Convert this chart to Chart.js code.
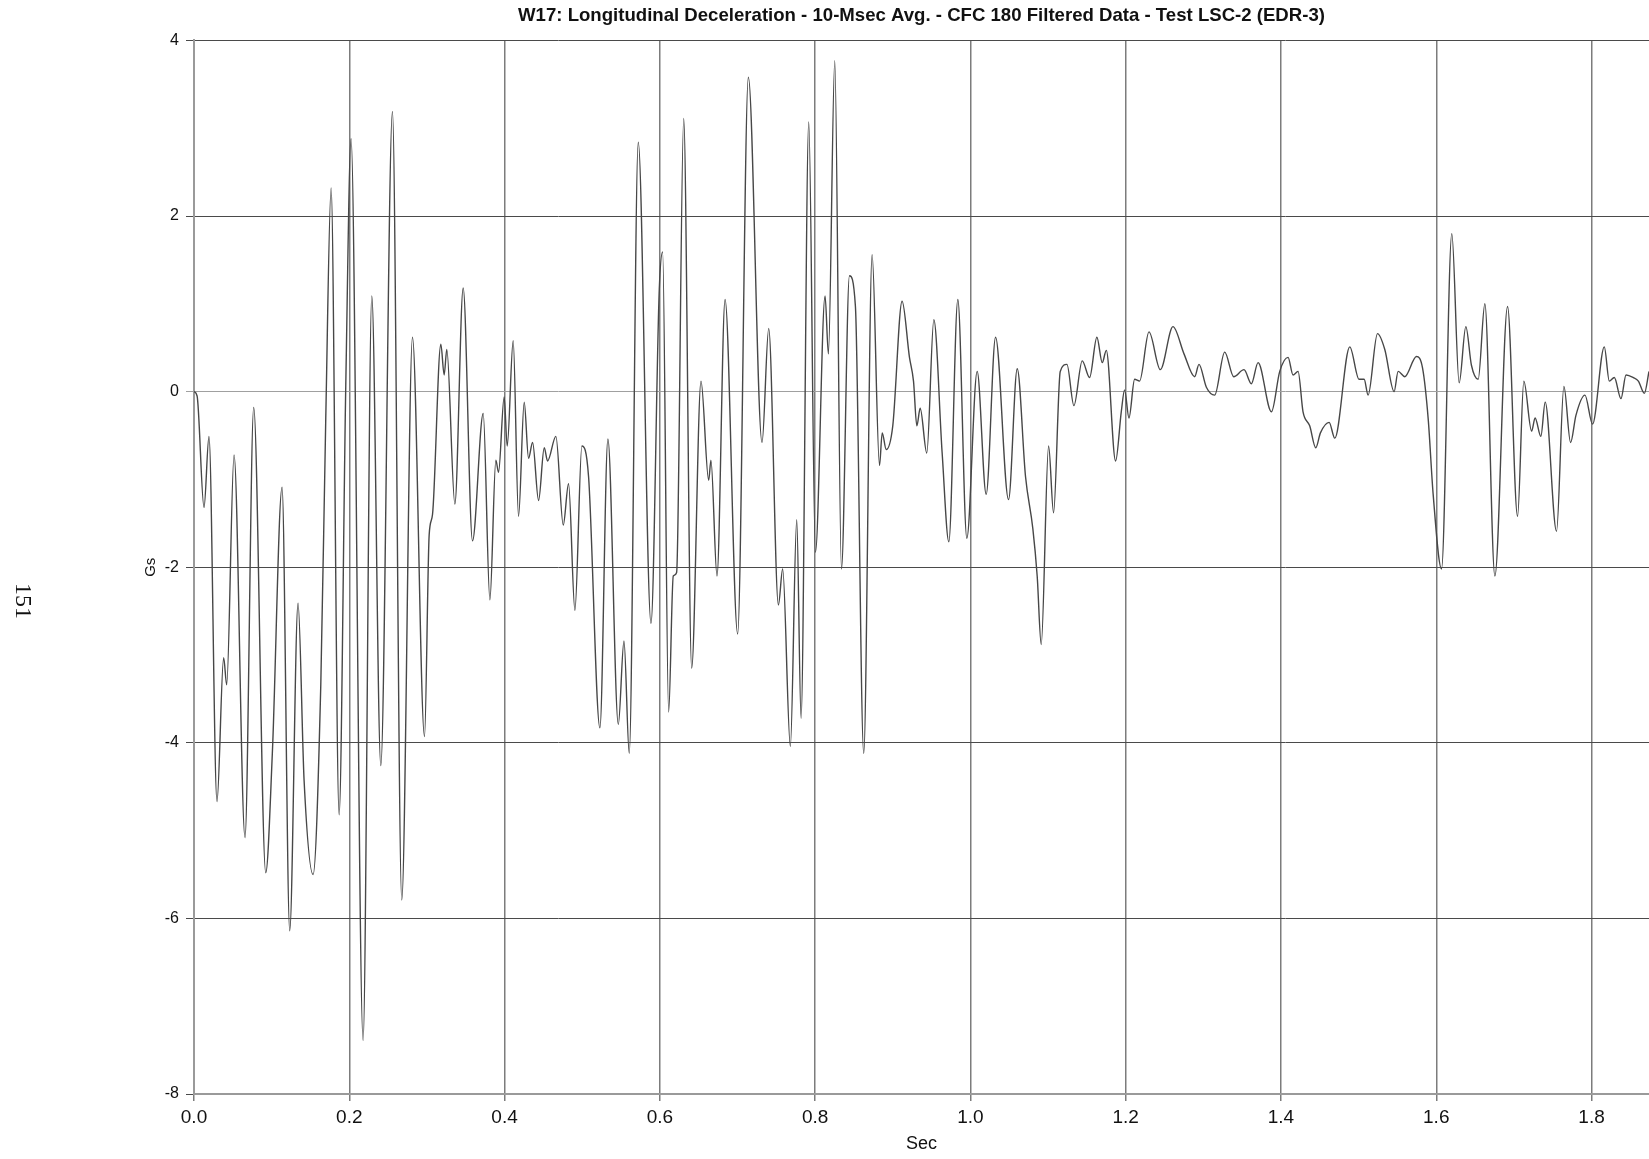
<!DOCTYPE html>
<html>
<head>
<meta charset="utf-8">
<title>W17 Longitudinal Deceleration</title>
<script src="https://cdn.jsdelivr.net/npm/chart.js@4.4.1/dist/chart.umd.min.js"></script>
<style>
  html, body { margin: 0; padding: 0; background: #fff; }
  #wrap { width: 1649px; height: 1159px; }
</style>
</head>
<body>
<div id="wrap"><canvas id="myChart" width="1649" height="1159"></canvas></div>
<script>
// values (peaks, valleys and shoulders of the trace)
const timeSec = [
  0.000, 0.004, 0.0129, 0.0193, 0.0296, 0.0382, 0.0421, 0.0516, 0.0657, 0.0769,
  0.0924, 0.1009, 0.1134, 0.1233, 0.134, 0.1418, 0.1534, 0.1633, 0.1697, 0.1766,
  0.1869, 0.1955, 0.2023, 0.2178, 0.229, 0.2406, 0.2556, 0.2676, 0.2814, 0.2969,
  0.3029, 0.3072, 0.3179, 0.3222, 0.3256, 0.336, 0.3467, 0.3587, 0.3725, 0.3811,
  0.3888, 0.3922, 0.3995, 0.4034, 0.4111, 0.418, 0.4253, 0.4309, 0.4361, 0.4438,
  0.4511, 0.4554, 0.4661, 0.4756, 0.4824, 0.4906, 0.4996, 0.5082, 0.5228, 0.5331,
  0.5465, 0.5538, 0.5606, 0.5722, 0.5886, 0.5993, 0.6036, 0.6113, 0.6173, 0.6216,
  0.6307, 0.641, 0.653, 0.6629, 0.6658, 0.6736, 0.684, 0.7002, 0.714, 0.7316,
  0.7402, 0.7527, 0.7582, 0.7681, 0.7763, 0.7819, 0.7918, 0.8004, 0.8128, 0.8171,
  0.8253, 0.8339, 0.8442, 0.8519, 0.8626, 0.8734, 0.8829, 0.8864, 0.8915, 0.900,
  0.912, 0.9215, 0.9267, 0.931, 0.9353, 0.9438, 0.9529, 0.9636, 0.9722, 0.9838,
  0.9954, 1.0087, 1.0203, 1.0324, 1.0491, 1.0603, 1.071, 1.0804, 1.086, 1.0912,
  1.1007, 1.1071, 1.1157, 1.1243, 1.1333, 1.144, 1.1535, 1.1629, 1.1698, 1.175,
  1.187, 1.1943, 1.1986, 1.2042, 1.2115, 1.2179, 1.23, 1.2446, 1.2609, 1.2751,
  1.2888, 1.2944, 1.3039, 1.3146, 1.3275, 1.3391, 1.3524, 1.3619, 1.3705, 1.3877,
  1.3984, 1.4091, 1.4155, 1.422, 1.4284, 1.437, 1.4448, 1.4508, 1.462, 1.4693,
  1.4886, 1.5006, 1.5071, 1.5122, 1.5243, 1.5337, 1.5457, 1.5509, 1.5595, 1.5745,
  1.5823, 1.5896, 1.596, 1.6068, 1.62, 1.6295, 1.6381, 1.6453, 1.654, 1.6626,
  1.6755, 1.6918, 1.7047, 1.7128, 1.7228, 1.7273, 1.7347, 1.7403, 1.7549, 1.7644,
  1.773, 1.7799, 1.7915, 1.8013, 1.8164, 1.8229, 1.8293, 1.8379, 1.8444, 1.8538,
  1.8603, 1.868, 1.874
];
const decelGs = [
  0.00, -0.05, -1.32, -0.51, -4.67, -3.03, -3.34, -0.72, -5.08, -0.18,
  -5.48, -4.12, -1.09, -6.14, -2.41, -4.43, -5.50, -3.34, -0.31, 2.32,
  -4.82, 0.08, 2.88, -7.39, 1.09, -4.26, 3.19, -5.79, 0.62, -3.93,
  -1.63, -1.40, 0.54, 0.19, 0.48, -1.28, 1.18, -1.70, -0.25, -2.37,
  -0.78, -0.92, -0.06, -0.62, 0.58, -1.42, -0.12, -0.76, -0.58, -1.24,
  -0.64, -0.79, -0.51, -1.52, -1.05, -2.49, -0.62, -0.97, -3.83, -0.54,
  -3.79, -2.84, -4.12, 2.84, -2.64, 1.17, 1.59, -3.65, -2.10, -2.06,
  3.11, -3.15, 0.12, -1.01, -0.78, -2.10, 1.05, -2.76, 3.58, -0.58,
  0.72, -2.43, -2.02, -4.04, -1.46, -3.72, 3.07, -1.83, 1.09, 0.43,
  3.77, -2.02, 1.32, 0.97, -4.12, 1.56, -0.84, -0.47, -0.66, -0.39,
  1.03, 0.39, 0.12, -0.39, -0.19, -0.70, 0.82, -0.70, -1.71, 1.05,
  -1.67, 0.23, -1.17, 0.62, -1.23, 0.26, -0.97, -1.56, -2.10, -2.88,
  -0.62, -1.38, 0.23, 0.31, -0.16, 0.35, 0.16, 0.62, 0.33, 0.47,
  -0.79, -0.23, 0.02, -0.30, 0.14, 0.12, 0.68, 0.25, 0.74, 0.43,
  0.17, 0.31, 0.05, -0.04, 0.45, 0.17, 0.25, 0.09, 0.33, -0.23,
  0.23, 0.39, 0.19, 0.23, -0.23, -0.39, -0.64, -0.47, -0.35, -0.53,
  0.51, 0.14, 0.14, -0.04, 0.66, 0.48, 0.00, 0.23, 0.17, 0.40,
  0.27, -0.31, -1.17, -2.02, 1.80, 0.10, 0.74, 0.30, 0.14, 1.00,
  -2.10, 0.97, -1.42, 0.12, -0.45, -0.30, -0.51, -0.12, -1.59, 0.06,
  -0.58, -0.27, -0.04, -0.37, 0.51, 0.12, 0.16, -0.08, 0.19, 0.16,
  0.12, -0.02, 0.23
];
const yTicks = [4, 2, 0, -2, -4, -6, -8];
const xTickStep = 0.2;
const xMax = 1.874;

const chartTitle = 'W17: Longitudinal Deceleration - 10-Msec Avg. - CFC 180 Filtered Data - Test LSC-2 (EDR-3)';
const pageNumber = '151';

const narrow = "'Liberation Sans Narrow', 'Arial Narrow', 'Liberation Sans', Arial, sans-serif";
const plain = "'Liberation Sans', Arial, sans-serif";

// page number turned on its side, plus a white background
const pagePlugin = {
  id: 'pageStuff',
  beforeDraw(chart) {
    const c = chart.ctx;
    c.save();
    c.fillStyle = '#ffffff';
    c.fillRect(0, 0, chart.width, chart.height);
    c.restore();
  },
  afterDraw(chart) {
    const c = chart.ctx;
    c.save();
    c.translate(22, 601);
    c.rotate(Math.PI / 2);
    c.font = "24px 'Liberation Serif', 'Times New Roman', serif";
    c.fillStyle = '#111';
    c.textAlign = 'center';
    c.textBaseline = 'middle';
    c.fillText(pageNumber, 0, 0);
    c.restore();
  }
};

const ctx = document.getElementById('myChart');
new Chart(ctx, {
  type: 'line',
  data: {
    datasets: [{
      label: 'Gs',
      data: timeSec.map((t, i) => ({ x: t, y: decelGs[i] })),
      borderColor: '#474747',
      borderWidth: 1.4,
      pointRadius: 0,
      fill: false,
      cubicInterpolationMode: 'monotone'
    }]
  },
  options: {
    responsive: false,
    animation: false,
    layout: { padding: 0 },
    plugins: {
      legend: { display: false },
      tooltip: { enabled: false },
      title: {
        display: true,
        fullSize: false,
        text: chartTitle,
        color: '#111',
        font: { family: narrow, size: 18.6, weight: 'bold' },
        padding: { top: 5, bottom: 13.1 }
      }
    },
    scales: {
      x: {
        type: 'linear',
        min: 0,
        max: xMax,
        afterFit: s => { s.height = 65; },
        ticks: {
          stepSize: xTickStep,
          includeBounds: false,
          autoSkip: false,
          maxRotation: 0,
          padding: 5,
          color: '#111',
          font: { family: narrow, size: 19 },
          callback: v => Number(v).toFixed(1)
        },
        grid: { color: '#7c7c7c', lineWidth: 1.5, tickLength: 7 },
        border: { color: '#9a9a9a', width: 2 },
        title: {
          display: true,
          text: 'Sec',
          color: '#111',
          font: { family: narrow, size: 18 },
          padding: { top: 0, bottom: 4 }
        }
      },
      y: {
        type: 'linear',
        min: -8,
        max: 4,
        afterFit: s => { s.width = 194; },
        afterBuildTicks: s => { s.ticks = yTicks.map(v => ({ value: v })); },
        ticks: {
          padding: 7,
          color: '#111',
          font: { family: plain, size: 16 },
          callback: v => String(v)
        },
        grid: {
          color: c => (c.tick && c.tick.value === 0) ? '#a0a0a0' : '#4a4a4a',
          lineWidth: 1,
          tickLength: 8
        },
        border: { color: '#9a9a9a', width: 2 },
        title: {
          display: true,
          text: 'Gs',
          color: '#111',
          font: { family: plain, size: 15 },
          padding: { top: 142, bottom: 0 }
        }
      }
    }
  },
  plugins: [pagePlugin]
});
</script>
</body>
</html>
